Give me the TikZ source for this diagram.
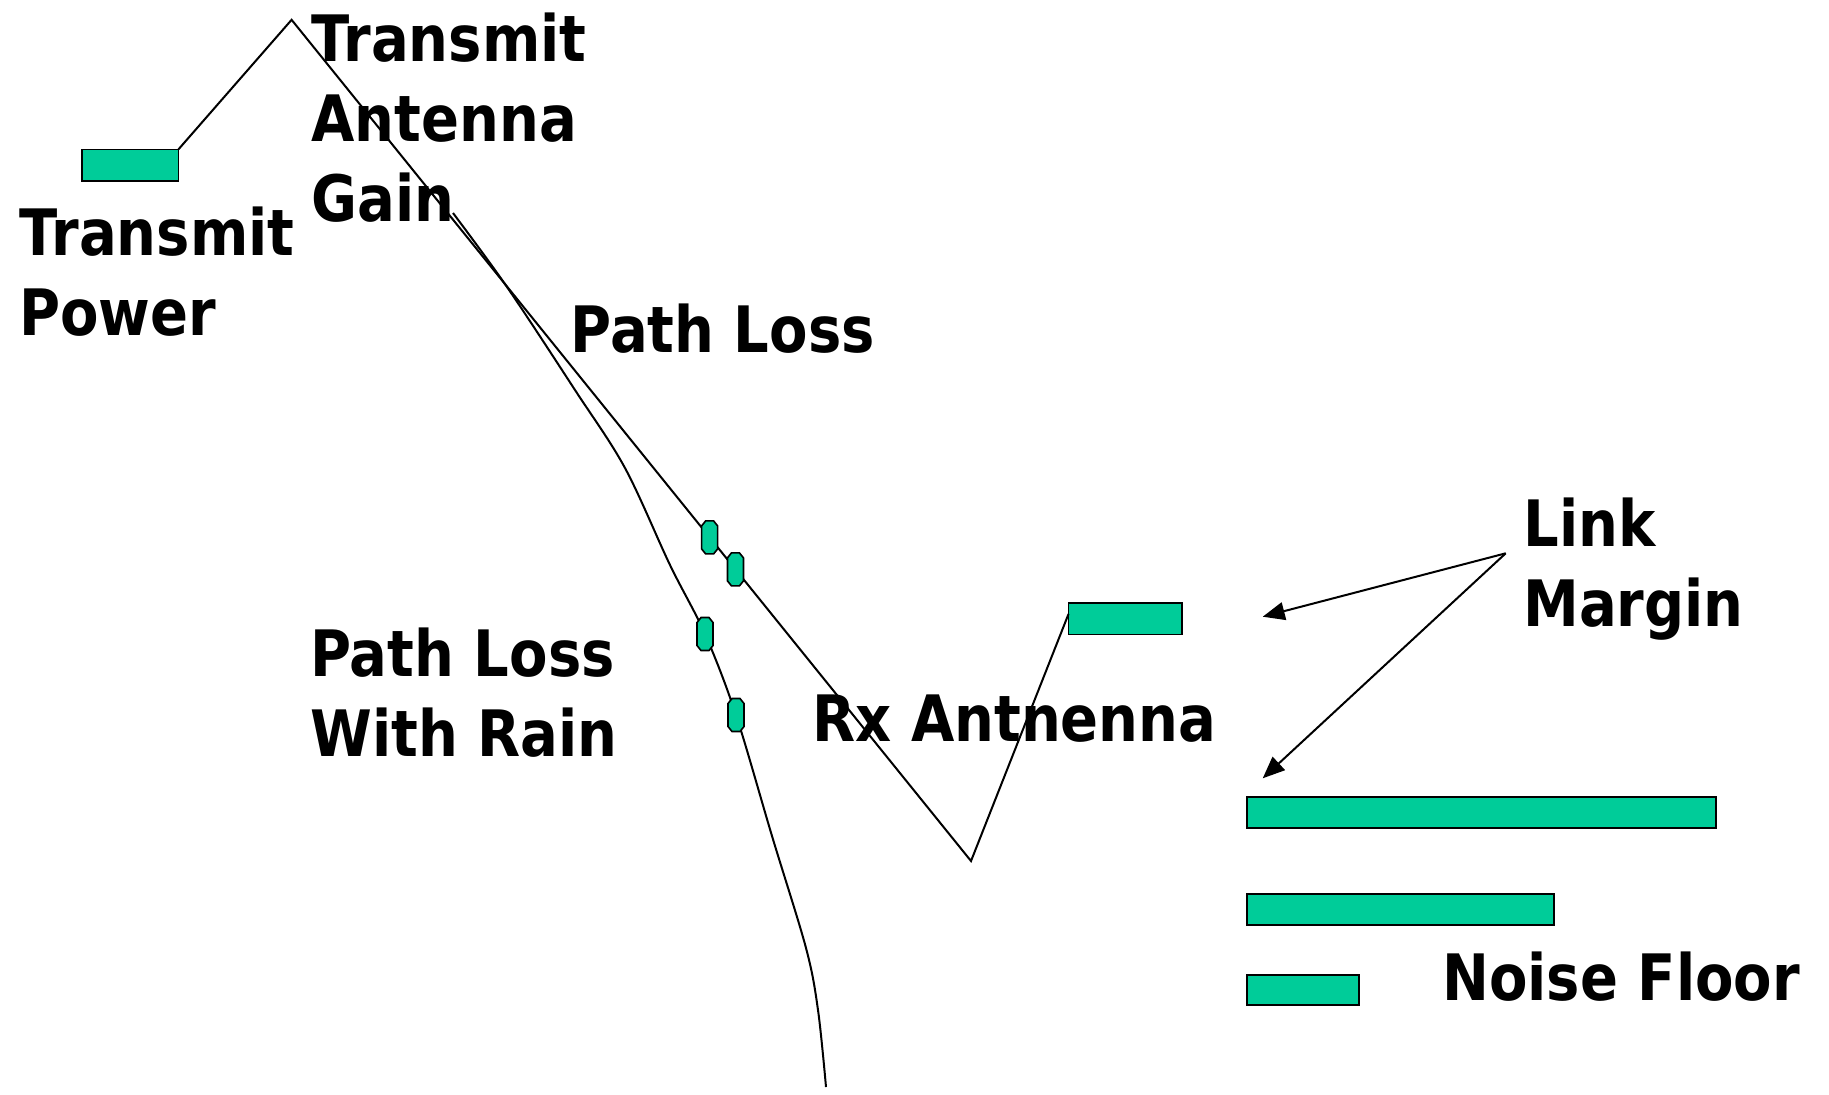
\documentclass[tikz,border=0pt]{standalone}
\usepackage{fontspec}
\newfontfamily\lblfont{DejaVu Sans}[FakeStretch=0.875]
\usetikzlibrary{arrows.meta,calc}
\definecolor{sig}{RGB}{0,204,153}
\begin{document}
\begin{tikzpicture}[x=0.5pt,y=-0.5pt,
  bar/.style={draw=black, line width=0.8pt, fill=sig, rectangle, inner sep=0pt, outer sep=0pt, anchor=north west},
  mk/.pic={\path[draw=black, line width=0.8pt, fill=sig]
     (-4pt,-5.75pt) -- (-4pt,5.75pt) -- (-2pt,8.25pt) -- (2pt,8.25pt) -- (4pt,5.75pt)
     -- (4pt,-5.75pt) -- (2pt,-8.25pt) -- (-2pt,-8.25pt) -- cycle;
     \coordinate (-c) at (0,0);},
  curve/.style={draw=black, line width=1pt},
  lbl/.style={anchor=base west, inner sep=0pt, align=left, font=\lblfont\bfseries\fontsize{32}{40}\selectfont},
  ptr/.style={draw=black, line width=1pt, -{Triangle[length=11pt,width=9pt]}}]
\fill[white] (0,0) rectangle (1829,1094);
\useasboundingbox (0,0) rectangle (1829,1094);
% bars
\node[bar, minimum width=48.4pt, minimum height=15.75pt] (txp) at (81.7,149.3) {};
\node[bar, minimum width=56.75pt, minimum height=15.75pt] (rx) at (1068.5,603) {};
\node[bar, minimum width=234.5pt, minimum height=15.5pt] (nf1) at (1247,797) {};
\node[bar, minimum width=153.5pt, minimum height=15.5pt] (nf2) at (1247,894) {};
\node[bar, minimum width=56pt, minimum height=15pt] (nf3) at (1247,975) {};
% main path loss line
\coordinate (peak) at (291.6,19.8);
\coordinate (vbot) at (971,861);
\coordinate (rxin) at ($(rx.north west)!0.35!(rx.south west)$);
\coordinate (p1) at ($(peak)!0.6153!(vbot)$);
\coordinate (p2) at ($(peak)!0.6533!(vbot)$);
\draw[curve] (txp.north east) -- (peak) -- (vbot) -- (rxin);
% path loss with rain
\coordinate (r0) at (453,213);
\coordinate (p3) at (705,634);
\coordinate (p4) at (736,715);
\coordinate (r1) at (826,1087);
\draw[curve] plot[smooth, tension=0.55] coordinates {(r0) (507,287) (575,390) (625,468) (670,565) (p3) (p4) (772,836) (806,948) (818,1010) (r1)};
% markers
\pic (m1) at (p1) {mk};
\pic (m2) at (p2) {mk};
\pic (m3) at (p3) {mk};
\pic (m4) at (p4) {mk};
% link margin arrows
\coordinate (lmsrc) at (1505.7,553.3);
\coordinate (lmt1) at (1262.7,616.7);
\coordinate (lmt2) at (1262.7,778.3);
\draw[ptr] (lmsrc) -- (lmt1);
\draw[ptr] (lmsrc) -- (lmt2);
% labels (base = baseline of last line)
\node[lbl] (tp) at (19,335) {Transmit\\Power};
\node[lbl] (tag) at (311,221.7) {Transmit\\Antenna\\Gain};
\node[lbl] (pl) at (570,352.7) {Path Loss};
\node[lbl] (plr) at (310,756.7) {Path Loss\\With Rain};
\node[lbl] (rxl) at (812,741) {Rx Antnenna};
\node[lbl] (lm) at (1523,626.7) {Link\\Margin};
\node[lbl] (nfl) at (1442,1000) {Noise Floor};
\end{tikzpicture}
\end{document}
